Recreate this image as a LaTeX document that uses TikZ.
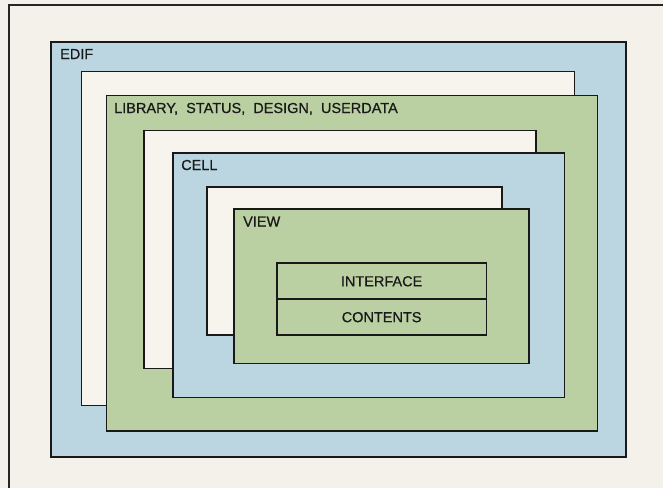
\documentclass[tikz,border=0pt]{standalone}
\usepackage{fontspec}
\setmainfont{Liberation Sans}
\newfontfamily\lblfont[FakeBold=0.6]{Liberation Sans}
\definecolor{paper}{RGB}{244,241,234}
\definecolor{boxblue}{RGB}{188,214,225}
\definecolor{boxgreen}{RGB}{186,207,162}
\definecolor{boxwhite}{RGB}{247,244,237}
\begin{document}
\begin{tikzpicture}[x=1pt,y=-1pt,
  layer/.style={draw=black!90, line width=1.9pt, rectangle, inner sep=0pt, outer sep=0pt, anchor=north west},
  bluebox/.style={layer, fill=boxblue},
  greenbox/.style={layer, fill=boxgreen},
  whitebox/.style={layer, fill=boxwhite},
  lbl/.style={anchor=base west, inner sep=0pt, font=\lblfont\fontsize{14.5}{16}\selectfont, text=black!90},
  ctext/.style={greenbox, anchor=center, font=\lblfont\fontsize{14.5}{16}\selectfont, text=black!90}
]
\fill[paper] (0,0) rectangle (663,488);
\useasboundingbox (0,0) rectangle (663,488);
% outer frame (cropped)
\coordinate (ftl) at (9,5);
\coordinate (ftr) at (663,5);
\coordinate (fbl) at (9,488);
\draw[line width=1.3pt, black!85] (ftr) -- (ftl) -- (fbl);
% nested boxes
\node[bluebox, minimum width=575pt, minimum height=415pt] (edif) at (51,42) {};
\node[lbl] (edift) at (60,59) {EDIF};
\node[whitebox, minimum width=493pt, minimum height=334pt] (w1) at (81.5,71.5) {};
\node[greenbox, minimum width=491pt, minimum height=335.5pt] (lib) at (106.5,95.5) {};
\node[lbl] (libt) at (114,113) {LIBRARY,\ \ STATUS,\ \ DESIGN,\ \ USERDATA};
\node[whitebox, minimum width=392pt, minimum height=238pt] (w2) at (144,130.5) {};
\node[bluebox, minimum width=391.5pt, minimum height=244.5pt] (cell) at (173,153) {};
\node[lbl] (cellt) at (181,170) {CELL};
\node[whitebox, minimum width=294.7pt, minimum height=148.3pt] (w3) at (207,186.7) {};
\node[greenbox, minimum width=295pt, minimum height=154.5pt] (view) at (234,209) {};
\node[lbl] (viewt) at (243,226.5) {VIEW};
\node[ctext, minimum width=209.8pt, minimum height=36pt] (iface) at (381.6,281.3) {INTERFACE};
\node[ctext, minimum width=209.8pt, minimum height=35.7pt] (cont) at (381.6,317.15) {CONTENTS};
\end{tikzpicture}
\end{document}
